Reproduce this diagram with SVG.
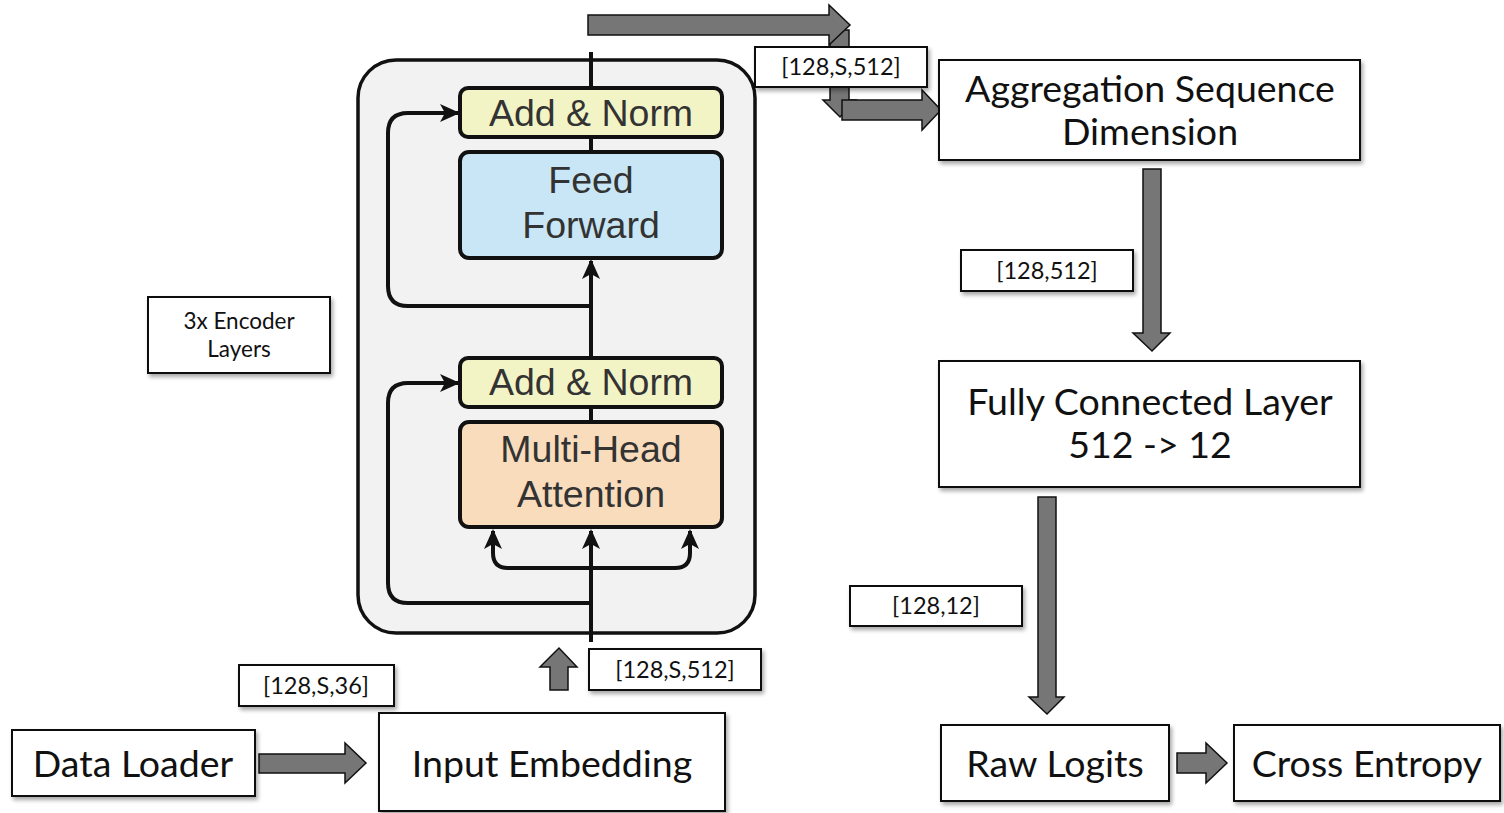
<svg xmlns="http://www.w3.org/2000/svg" width="1504" height="813" viewBox="0 0 1504 813">
  <defs>
    <filter id="shadow" x="-10%" y="-10%" width="125%" height="130%">
      <feGaussianBlur in="SourceAlpha" stdDeviation="2"/>
      <feOffset dx="2" dy="3" result="off"/>
      <feComponentTransfer><feFuncA type="linear" slope="0.35"/></feComponentTransfer>
      <feMerge><feMergeNode/><feMergeNode in="SourceGraphic"/></feMerge>
    </filter>
    <marker id="tip" viewBox="0 0 10 10" refX="9" refY="5" markerWidth="5" markerHeight="5" orient="auto" markerUnits="strokeWidth">
      <path d="M0,0.5 L10,5 L0,9.5 L2.5,5 Z" fill="#111"/>
    </marker>
    <style>
      .box { fill: #fff; stroke: #111; stroke-width: 2; filter: url(#shadow); }
      .big { font-family: Lato, "Liberation Sans", sans-serif; font-size: 37.5px; fill: #111; text-anchor: middle; }
      .small { font-family: Lato, "Liberation Sans", sans-serif; font-size: 23.5px; fill: #111; text-anchor: middle; }
      .note { font-family: Lato, "Liberation Sans", sans-serif; font-size: 22.5px; fill: #111; text-anchor: middle; }
      .block { fill: #767676; stroke: #111; stroke-width: 1.5; stroke-linejoin: miter; }
      .wire { fill: none; stroke: #111; stroke-width: 4; }
      .sub { stroke: #111; stroke-width: 4; }
      .tf { font-family: "Liberation Sans", Arial, sans-serif; font-size: 37.5px; fill: #333; text-anchor: middle; }
    </style>
  </defs>

  <!-- encoder block panel -->
  <g id="encoder">
    <rect x="358" y="60" width="397" height="573" rx="38" ry="38" fill="#f2f2f2" stroke="#111" stroke-width="3.5"/>
    <!-- internal wiring -->
    <g id="encoder-wires">
      <path class="wire" d="M591,642 V540"/>
      <path class="wire" marker-end="url(#tip)" d="M591,575 V531"/>
      <path class="wire" marker-end="url(#tip)" d="M591,568 H508 Q493,568 493,553 V531"/>
      <path class="wire" marker-end="url(#tip)" d="M591,568 H675 Q690,568 690,553 V531"/>
      <path class="wire" d="M591,603 H408 Q388,603 388,583 V403 Q388,383 408,383 H440"/>
      <path class="wire" marker-end="url(#tip)" d="M430,383 H458"/>
      <path class="wire" d="M591,422 V407"/>
      <path class="wire" marker-end="url(#tip)" d="M591,358 V261"/>
      <path class="wire" d="M591,306 H408 Q388,306 388,286 V133 Q388,113 408,113 H440"/>
      <path class="wire" marker-end="url(#tip)" d="M430,113 H458"/>
      <path class="wire" d="M591,152 V137"/>
      <path class="wire" d="M591,88 V52"/>
    </g>
    <g id="add-norm-top">
      <rect class="sub" x="460" y="88" width="262" height="49" rx="8" fill="#f3f4c6"/>
      <text class="tf" x="591" y="126">Add &amp; Norm</text>
    </g>
    <g id="feed-forward">
      <rect class="sub" x="460" y="152" width="262" height="106" rx="9" fill="#c8e6f5"/>
      <text class="tf" x="591" y="193">Feed</text>
      <text class="tf" x="591" y="238">Forward</text>
    </g>
    <g id="add-norm-bottom">
      <rect class="sub" x="460" y="358" width="262" height="49" rx="8" fill="#f3f4c6"/>
      <text class="tf" x="591" y="395">Add &amp; Norm</text>
    </g>
    <g id="multi-head-attention">
      <rect class="sub" x="460" y="422" width="262" height="105" rx="9" fill="#f9dcbc"/>
      <text class="tf" x="591" y="462">Multi-Head</text>
      <text class="tf" x="591" y="507">Attention</text>
    </g>
  </g>

  <!-- block arrows between stages -->
  <g id="connectors">
    <path class="block" d="M259,754 H345 V743 L366,763 L345,783 V773 H259 Z"/>
    <path class="block" d="M550,690 V667 H540 L559,648 L577,667 H568 V690 Z"/>
    <path class="block" d="M830,30 H849 V100 H856 L840,117 L823,100 H830 Z"/>
    <path class="block" d="M588,15 H829 V5 L850,25 L829,45 V35 H588 Z"/>
    <path class="block" d="M1143,169 H1161 V333 H1170 L1152,351 L1133,333 H1143 Z"/>
    <path class="block" d="M1038,497 H1056 V697 H1064 L1047,714 L1029,697 H1038 Z"/>
    <path class="block" d="M1177,753 H1206 V743 L1227,763 L1206,783 V773 H1177 Z"/>
  </g>

  <g id="label-encoder-out">
    <rect class="box" x="755" y="47" width="172" height="40"/>
    <text class="small" x="841" y="75">[128,S,512]</text>
  </g>

  <g id="connector-to-aggregation">
    <path class="block" d="M842,100 H922 V90 L941,110 L922,130 V120 H842 Z"/>
  </g>

  <g id="data-loader">
    <rect class="box" x="12" y="730" width="243" height="66"/>
    <text class="big" x="133" y="777">Data Loader</text>
  </g>
  <g id="label-raw-input">
    <rect class="box" x="239" y="665" width="155" height="41"/>
    <text class="small" x="316" y="694">[128,S,36]</text>
  </g>
  <g id="input-embedding">
    <rect class="box" x="379" y="713" width="346" height="98"/>
    <text class="big" x="552" y="777">Input Embedding</text>
  </g>
  <g id="label-embedded">
    <rect class="box" x="589" y="649" width="172" height="41"/>
    <text class="small" x="675" y="678">[128,S,512]</text>
  </g>
  <g id="encoder-count">
    <rect class="box" x="148" y="297" width="182" height="76"/>
    <text class="note" x="239" y="329">3x Encoder</text>
    <text class="note" x="239" y="357">Layers</text>
  </g>
  <g id="aggregation">
    <rect class="box" x="939" y="60" width="421" height="100"/>
    <text class="big" x="1150" y="102">Aggregation Sequence</text>
    <text class="big" x="1150" y="145">Dimension</text>
  </g>
  <g id="label-pooled">
    <rect class="box" x="961" y="250" width="172" height="41"/>
    <text class="small" x="1047" y="279">[128,512]</text>
  </g>
  <g id="fully-connected">
    <rect class="box" x="939" y="361" width="421" height="126"/>
    <text class="big" x="1150" y="415">Fully Connected Layer</text>
    <text class="big" x="1150" y="458">512 -&gt; 12</text>
  </g>
  <g id="label-logits">
    <rect class="box" x="850" y="586" width="172" height="40"/>
    <text class="small" x="936" y="614">[128,12]</text>
  </g>
  <g id="raw-logits">
    <rect class="box" x="941" y="725" width="228" height="76"/>
    <text class="big" x="1055" y="777">Raw Logits</text>
  </g>
  <g id="cross-entropy">
    <rect class="box" x="1234" y="725" width="266" height="76"/>
    <text class="big" x="1367" y="777">Cross Entropy</text>
  </g>
</svg>
